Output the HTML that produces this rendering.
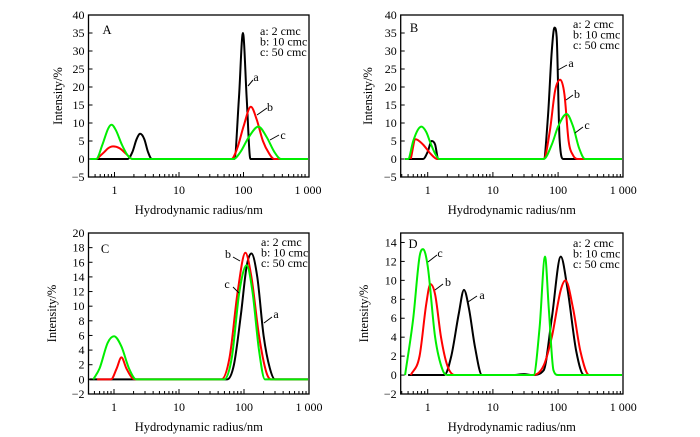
<!DOCTYPE html>
<html><head><meta charset="utf-8"><style>
html,body{margin:0;padding:0;background:#fff;}
svg{display:block;font-family:"Liberation Serif",serif;}
</style></head><body>
<svg id="fig" width="700" height="437" viewBox="0 0 700 437"></svg>
<script>
// ---- data (x: hydrodynamic radius nm, y: intensity %) ----
const A_a_x=[0.45,1.6,1.9,2.2,2.5,2.9,3.3,3.8,72,85,98,112,128,1000];
const A_a_y=[0,0,2,5.5,7,5.5,2,0,0,17,35,17,0,0];
const A_b_x=[0.53,0.7,0.8,0.95,1.2,1.5,1.9,65,80,100,130,160,200,250,300,1000];
const A_b_y=[0,2,3,3.5,3,1.5,0,0,3,9,14.5,11,5,1.5,0,0];
const A_c_x=[0.42,0.52,0.65,0.8,0.9,1.05,1.3,1.6,1.9,70,90,120,170,230,300,380,1000];
const A_c_y=[0,0,4,8.5,9.5,8,4,1,0,0,2,6,9,6,2,0,0];
const B_a_x=[0.45,0.85,1.0,1.15,1.3,1.45,60,70,80,88,95,105,120,1000];
const B_a_y=[0,0,2,5,4,0,0,12,30,36.5,34,6,0,0];
const B_b_x=[0.55,0.65,0.85,1.1,1.4,60,75,90,108,125,145,170,200,1000];
const B_b_y=[0,5.5,4,1.5,0,0,8,19,22,18,5,1,0,0];
const B_c_x=[0.45,0.5,0.6,0.7,0.8,0.95,1.1,1.3,1.5,60,80,100,135,170,210,260,1000];
const B_c_y=[0,0,5,8,9,7.5,4.5,1.5,0,0,4,9,12.5,9,3,0,0];
const C_a_x=[0.4,55,70,90,110,130,160,200,250,300,1000];
const C_a_y=[0,0,2,9,15.5,17.2,14,6,1.5,0,0];
const C_b_x=[0.55,0.9,1.1,1.3,1.55,1.9,2.2,45,60,80,105,130,170,220,260,1000];
const C_b_y=[0,0,1.5,3,1.5,0.2,0,0,3,12,17.3,14,6,1,0,0];
const C_c_x=[0.48,0.6,0.8,1.0,1.3,1.7,2.2,50,65,85,110,135,170,210,1000];
const C_c_y=[0,1.5,5,5.9,4.5,1.5,0,0,3,12,15.6,12,4,0,0];
const D_a_x=[0.5,1.8,2.3,3,3.6,4.3,5.3,6.8,20,30,40,60,80,110,140,190,250,1000];
const D_a_y=[0,0,2,6.5,9,7,3,0,0,0.1,0,0.5,6,12.5,9,2.5,0,0];
const D_b_x=[0.55,0.75,0.95,1.1,1.3,1.6,2,2.6,40,60,80,110,130,170,220,300,1000];
const D_b_y=[0,2,7.5,9.6,8.5,4,1,0,0,1,4,9,10,7,2.5,0,0];
const D_c_x=[0.45,0.6,0.75,0.85,1.0,1.3,1.7,2,42,52,63,72,85,100,1000];
const D_c_y=[0,6,12.5,13.3,11.5,4,0.5,0,0,5,12.5,7,0.5,0,0];
const xTickVals=[1,10,100,1000];
const xTickLabels=["1","10","100","1 000"];
const yTicksAB=[-5,0,5,10,15,20,25,30,35,40];
const yTicksC=[-2,0,2,4,6,8,10,12,14,16,18,20];
const yTicksD=[-2,0,2,4,6,8,10,12,14];
const legendLines=["a: 2  cmc","b: 10 cmc","c: 50 cmc"];

const NS="http://www.w3.org/2000/svg";
const svg=document.getElementById('fig');
function mk(tag,attrs,parent){const e=document.createElementNS(NS,tag);for(const k in attrs)e.setAttribute(k,attrs[k]);(parent||svg).appendChild(e);return e;}
function txt(s,x,y,anchor,size,parent){const t=mk('text',{x:x,y:y,'text-anchor':anchor||'start','font-size':size||12,fill:'#000'},parent);t.textContent=s;return t;}

function monoPath(px,py){
  const n=px.length;if(n<2)return '';
  const d=[],m=[];
  for(let i=0;i<n-1;i++){d.push((py[i+1]-py[i])/(px[i+1]-px[i]));}
  m[0]=d[0];m[n-1]=d[n-2];
  for(let i=1;i<n-1;i++){m[i]=(d[i-1]*d[i]<=0)?0:(d[i-1]+d[i])/2;}
  for(let i=0;i<n-1;i++){if(d[i]===0){m[i]=0;m[i+1]=0;continue;}const a=m[i]/d[i],b=m[i+1]/d[i],s=a*a+b*b;if(s>9){const t=3/Math.sqrt(s);m[i]=t*a*d[i];m[i+1]=t*b*d[i];}}
  let p='M'+px[0].toFixed(2)+','+py[0].toFixed(2);
  for(let i=0;i<n-1;i++){const h=(px[i+1]-px[i])/3;p+=' C'+(px[i]+h).toFixed(2)+','+(py[i]+m[i]*h).toFixed(2)+' '+(px[i+1]-h).toFixed(2)+','+(py[i+1]-m[i+1]*h).toFixed(2)+' '+px[i+1].toFixed(2)+','+py[i+1].toFixed(2);}
  return p;
}

function panel(cfg){
  const g=mk('g',{});
  
  
  const L=cfg.left,R=cfg.right,T=cfg.top,B=cfg.bottom;
  const xs=v=>cfg.x1+(Math.log10(v))*cfg.dec;
  const ys=v=>B-(v-cfg.ymin)/(cfg.ymax-cfg.ymin)*(B-T);
  const box=mk('rect',{x:L,y:T,width:R-L,height:B-T,fill:'none',stroke:'#000','stroke-width':1.3},g);
  
  
  // y ticks
  cfg.yticks.forEach(v=>{const y=ys(v);mk('line',{x1:L,x2:L+4,y1:y,y2:y,stroke:'#000','stroke-width':1},g);
    const t=txt(v<0?'\u2212'+Math.abs(v):String(v),L-4,y+4,'end',12,g);
    
    });
  // x ticks
  for(let e=-1;e<3;e++){for(let k=1;k<10;k++){const v=k*Math.pow(10,e);const x=xs(v);if(x<L+1||x>R-1)continue;const len=(k===1)?5:3;mk('line',{x1:x,x2:x,y1:B,y2:B-len,stroke:'#000','stroke-width':1},g);}}
  xTickVals.forEach((v,i)=>{const t=txt(xTickLabels[i],xs(v),B+17,'middle',12,g);
    
    });
  // series
  const colors=['#000','#f00','#0e0'];
  cfg.series.forEach((s,i)=>{const px=s[0].map(xs).map(x=>Math.max(L+1,Math.min(R-1,x)));const py=s[1].map(ys);
    const p=mk('path',{d:monoPath(px,py),fill:'none',stroke:colors[i],'stroke-width':2,'stroke-linejoin':'round'},g);
    
    });
  // axis titles
  const xt=txt('Hydrodynamic radius/nm',(L+R)/2,B+37,'middle',12.5,g);
  
  
  const cy=(T+B)/2,cx=cfg.ylabX;
  const yt=txt('Intensity/%',cx,cy,'middle',12.5,g);
  yt.setAttribute('transform','rotate(-90 '+cx+' '+cy+')');
  
  
  const pl=txt(cfg.id,cfg.lab[0],cfg.lab[1],'middle',12.5,g);
  
  
  legendLines.forEach((s,i)=>{const t=txt(s,cfg.leg[0],cfg.leg[1]+i*10.5,'start',12,g);
    
    });
  cfg.callouts.forEach(c=>{mk('line',{x1:c[0],y1:c[1],x2:c[2],y2:c[3],stroke:'#000','stroke-width':1},g);
    const t=txt(c[4],c[5],c[6],'middle',12,g);
    
    });
}

panel({id:'A',left:88.5,right:309,top:15,bottom:177,x1:114.5,dec:64.5,ymin:-5,ymax:40,yticks:yTicksAB,ylabX:62,lab:[107,34],leg:[260,35],
  series:[[A_a_x,A_a_y],[A_b_x,A_b_y],[A_c_x,A_c_y]],
  callouts:[[248,86,253,80,'a',256,81],[257,115,267,108,'b',270,111],[270,140,279,135,'c',283,139]]});
panel({id:'B',left:400.7,right:623,top:15,bottom:177,x1:427.7,dec:65.2,ymin:-5,ymax:40,yticks:yTicksAB,ylabX:372,lab:[414,32],leg:[573,28],
  series:[[B_a_x,B_a_y],[B_b_x,B_b_y],[B_c_x,B_c_y]],
  callouts:[[558,70,567,65,'a',571,67],[566,100,573,95,'b',577,98],[575,133,583,127,'c',587,129]]});
panel({id:'C',left:88.5,right:309,top:233,bottom:394,x1:114,dec:65,ymin:-2,ymax:20,yticks:yTicksC,ylabX:56,lab:[105,253],leg:[261,246],
  series:[[C_a_x,C_a_y],[C_b_x,C_b_y],[C_c_x,C_c_y]],
  callouts:[[233,257,240,261,'b',228,258],[233,287,239,293,'c',227,288],[264,323,272,317,'a',276,318]]});
panel({id:'D',left:400.7,right:623,top:233,bottom:394,x1:427.7,dec:65.2,ymin:-2,ymax:15,yticks:yTicksD,ylabX:368,lab:[413,248],leg:[573,247],
  series:[[D_a_x,D_a_y],[D_b_x,D_b_y],[D_c_x,D_c_y]],
  callouts:[[428,262,437,255,'c',440,257],[435,290,443,284,'b',448,286],[468,302,477,296,'a',482,299]]});
</script>
</body></html>
